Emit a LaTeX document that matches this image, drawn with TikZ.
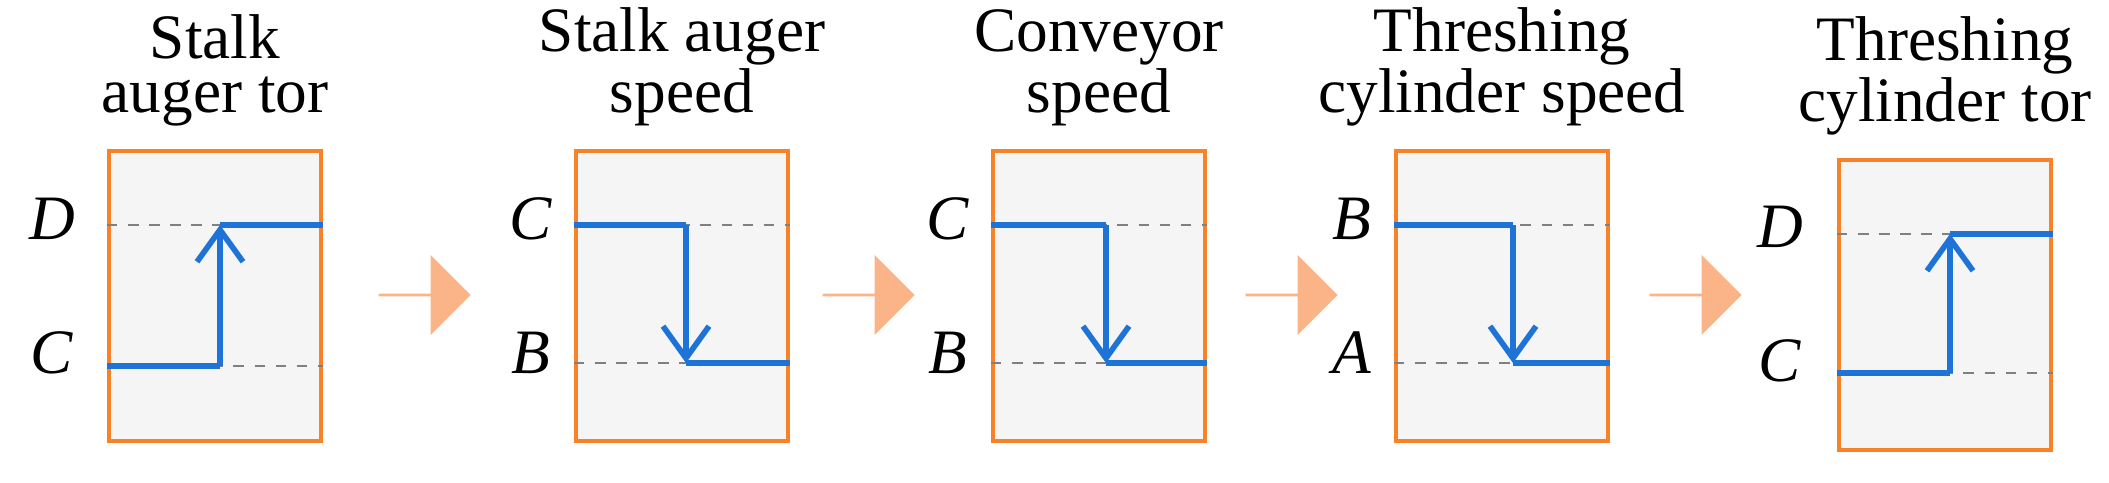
\documentclass[tikz,border=0pt]{standalone}
\usepackage{fontspec}
\setmainfont{Liberation Serif}
\usetikzlibrary{shapes.arrows,positioning,arrows.meta}
\definecolor{boxorange}{RGB}{247,130,40}
\definecolor{stepblue}{RGB}{30,115,215}
\definecolor{flowarrow}{RGB}{251,180,135}

\begin{document}
\begin{tikzpicture}[
    panel/.style={draw=boxorange, line width=1.2pt, fill=gray!8, minimum width=2.12cm, minimum height=2.90cm, inner sep=0pt},
    title/.style={align=center, font=\fontsize{18}{15.3}\selectfont, above=3pt of #1},
    level/.style={font=\fontsize{18}{18}\selectfont\itshape},
    guide/.style={gray, dashed, line width=0.5pt},
    trace/.style={stepblue, line width=1.5pt},
    jump/.style={trace, -{Straight Barb[length=3.2mm, width=4.6mm, line width=1.6pt]}},
    flow/.style={single arrow, fill=flowarrow, draw=none, minimum height=0.92cm, minimum width=0.80cm, single arrow head extend=0.21cm, inner sep=0pt}
]
\useasboundingbox (0,0) rectangle (21.09,4.83);

% Panels
\node[panel] (p1) at (2.15,1.87) {};
\node[panel] (p2) at (6.82,1.87) {};
\node[panel] (p3) at (10.99,1.87) {};
\node[panel] (p4) at (15.02,1.87) {};
\node[panel] (p5) at (19.45,1.78) {};

% Titles
\node[title=p1] {Stalk\\auger tor};
\node[title=p2] {Stalk auger\\speed};
\node[title=p3] {Conveyor\\speed};
\node[title=p4] {Threshing\\cylinder speed};
\node[title=p5] {Threshing\\cylinder tor};

% Panel 1
\coordinate (h1) at (2.20,2.58);
\coordinate (l1) at (2.20,1.17);
\draw[guide] (p1.west |- h1) -- (p1.east |- h1);
\draw[guide] (p1.west |- l1) -- (p1.east |- l1);
\node[level] at (0.52,2.64) {D};
\node[level] at (0.52,1.30) {C};
\draw[trace] (p1.west |- l1) -- (l1);
\draw[jump] (l1) -- (h1);
\draw[trace] (h1) -- (p1.east |- h1);

% Panel 2
\coordinate (h2) at (6.86,2.58);
\coordinate (l2) at (6.86,1.20);
\draw[guide] (p2.west |- h2) -- (p2.east |- h2);
\draw[guide] (p2.west |- l2) -- (p2.east |- l2);
\node[level] at (5.31,2.64) {C};
\node[level] at (5.31,1.30) {B};
\draw[trace] (p2.west |- h2) -- (h2);
\draw[jump] (h2) -- (l2);
\draw[trace] (l2) -- (p2.east |- l2);

% Panel 3
\coordinate (h3) at (11.06,2.58);
\coordinate (l3) at (11.06,1.20);
\draw[guide] (p3.west |- h3) -- (p3.east |- h3);
\draw[guide] (p3.west |- l3) -- (p3.east |- l3);
\node[level] at (9.48,2.64) {C};
\node[level] at (9.48,1.30) {B};
\draw[trace] (p3.west |- h3) -- (h3);
\draw[jump] (h3) -- (l3);
\draw[trace] (l3) -- (p3.east |- l3);

% Panel 4
\coordinate (h4) at (15.13,2.58);
\coordinate (l4) at (15.13,1.20);
\draw[guide] (p4.west |- h4) -- (p4.east |- h4);
\draw[guide] (p4.west |- l4) -- (p4.east |- l4);
\node[level] at (13.52,2.64) {B};
\node[level] at (13.52,1.30) {A};
\draw[trace] (p4.west |- h4) -- (h4);
\draw[jump] (h4) -- (l4);
\draw[trace] (l4) -- (p4.east |- l4);

% Panel 5
\coordinate (h5) at (19.50,2.49);
\coordinate (l5) at (19.50,1.10);
\draw[guide] (p5.west |- h5) -- (p5.east |- h5);
\draw[guide] (p5.west |- l5) -- (p5.east |- l5);
\node[level] at (17.80,2.56) {D};
\node[level] at (17.80,1.22) {C};
\draw[trace] (p5.west |- l5) -- (l5);
\draw[jump] (l5) -- (h5);
\draw[trace] (h5) -- (p5.east |- h5);

% Flow arrows
\node[flow] (f1) at (4.24,1.88) {};
\node[flow] (f2) at (8.68,1.88) {};
\node[flow] (f3) at (12.91,1.88) {};
\node[flow] (f4) at (16.95,1.88) {};

\end{tikzpicture}
\end{document}
